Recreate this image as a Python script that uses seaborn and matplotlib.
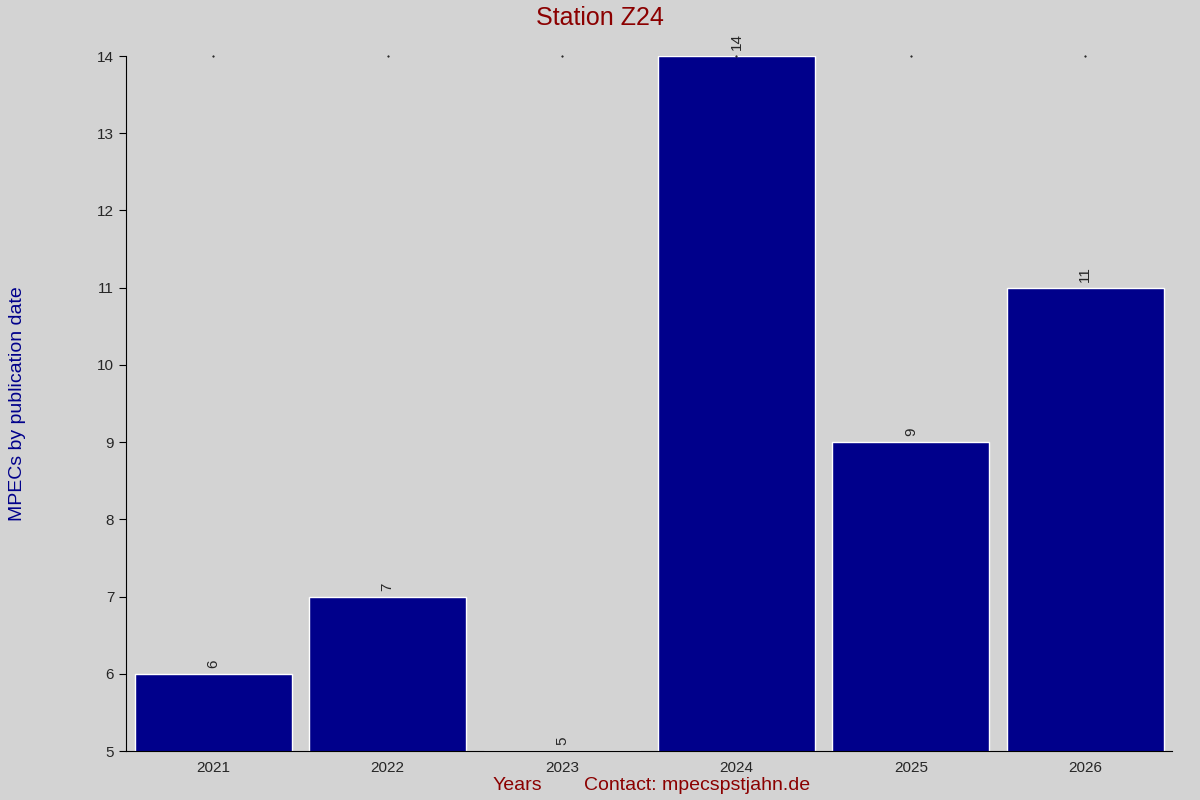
import pandas as pd
import matplotlib.pyplot as plt
import seaborn as sns

years = ['2021', '2022', '2023', '2024', '2025', '2026']
counts = [6, 7, 5, 14, 9, 11]

df = pd.DataFrame({'year': years, 'count': counts})

sns.set_style('white')
plt.rcParams['font.family'] = ['Liberation Sans', 'DejaVu Sans']

fig = plt.figure(figsize=(12, 8), dpi=100, facecolor='#d3d3d3')
ax = fig.add_axes([0.105, 0.061, 0.872, 0.869])
ax.set_facecolor('#d3d3d3')

sns.barplot(data=df, x='year', y='count', color='#00008b', saturation=1,
            width=0.9, ax=ax)

ax.set_ylim(5, 14)
ax.set_yticks(range(5, 15))
ax.set_xlim(-0.5, 5.5)
for i, v in enumerate(counts):
    ax.text(i, v + 0.08, str(v), rotation=90, ha='center', va='bottom', fontsize=11)
    ax.plot(i, 14, marker='.', markersize=1, color='black', clip_on=False)

for s in ['top', 'right']:
    ax.spines[s].set_visible(False)
for s in ['left', 'bottom']:
    ax.spines[s].set_color('black')
ax.tick_params(axis='y', left=True, length=5, labelsize=11, color='black')
ax.tick_params(axis='x', bottom=False, labelsize=11)

ax.set_xlabel('')
ax.set_ylabel('')
fig.text(0.5, 0.977, 'Station Z24', ha='center', va='center', fontsize=18, color='#8b0000')
fig.text(0.015, 0.495, 'MPECs by publication date', rotation=90, ha='center', va='center',
         fontsize=14, color='#00008b')
fig.text(0.431, 0.018, 'Years', ha='center', va='center', fontsize=14, color='#8b0000')
fig.text(0.581, 0.018, 'Contact: mpecspstjahn.de', ha='center', va='center', fontsize=14,
         color='#8b0000')

fig.savefig('out.png', facecolor=fig.get_facecolor())
